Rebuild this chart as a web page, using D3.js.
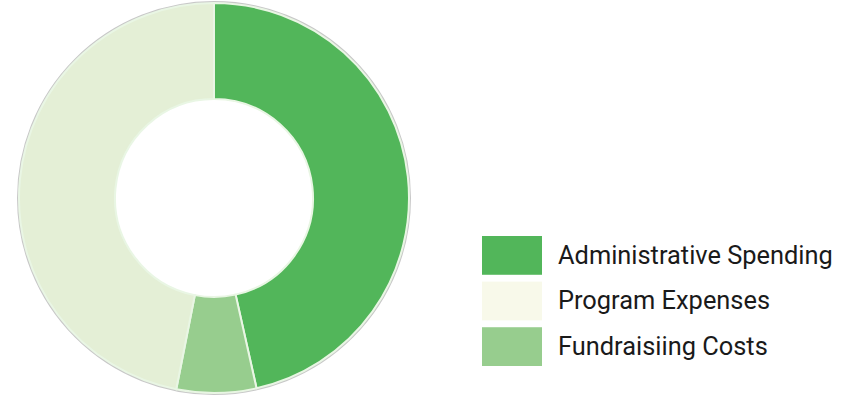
<!DOCTYPE html>
<html>
<head>
<meta charset="utf-8">
<script src="https://cdn.jsdelivr.net/npm/d3@7"></script>
<style>
  body { margin: 0; background: #fff; }
  svg { display: block; }
</style>
</head>
<body>
<svg id="chart"></svg>
<script>
const categories = ["Administrative Spending", "Program Expenses", "Fundraisiing Costs"];
const values = [46.5, 46.9, 6.6];
const sliceColors = ["#52b65a", "#e4efd6", "#97cd8e"];
const legendColors = ["#52b65a", "#f8f9ea", "#97cd8e"];

const width = 857, height = 400;
const cx = 214, cy = 198, outerR = 195, innerR = 99;

const svg = d3.select("#chart").attr("width", width).attr("height", height);

const data = categories.map((name, i) => ({ name, value: values[i] }));

const pie = d3.pie()
    .sort(null)
    .value(d => d.value);

const arc = d3.arc()
    .innerRadius(innerR)
    .outerRadius(outerR);

// order on the ring: admin, fundraising, program (clockwise from top)
const ringOrder = [0, 2, 1];
const ringData = ringOrder.map(i => data[i]);

const g = svg.append("g").attr("transform", `translate(${cx},${cy})`);

// soft grey rim round the outside
g.append("circle")
    .attr("r", outerR + 1)
    .attr("fill", "none")
    .attr("stroke", "#c8c8c8")
    .attr("stroke-width", 2);

g.selectAll("path.slice")
    .data(pie(ringData))
    .join("path")
    .attr("class", "slice")
    .attr("d", arc)
    .attr("fill", d => sliceColors[categories.indexOf(d.data.name)])
    .attr("stroke", "#e9f6e4")
    .attr("stroke-width", 2);

// legend
const y = d3.scaleBand()
    .domain(categories)
    .range([236, 366])
    .paddingInner(0.15);

const legend = svg.append("g")
    .style("font-family", "Roboto, 'DejaVu Sans', sans-serif");

legend.selectAll("rect")
    .data(categories)
    .join("rect")
    .attr("x", 482)
    .attr("y", d => y(d))
    .attr("width", 60)
    .attr("height", y.bandwidth())
    .attr("fill", (d, i) => legendColors[i]);

legend.selectAll("text")
    .data(categories)
    .join("text")
    .attr("x", 558)
    .attr("y", d => y(d) + y.bandwidth() / 2)
    .attr("dy", "0.33em")
    .attr("font-size", 25.4)
    .attr("fill", "#1a1a1a")
    .text(d => d);
</script>
</body>
</html>
